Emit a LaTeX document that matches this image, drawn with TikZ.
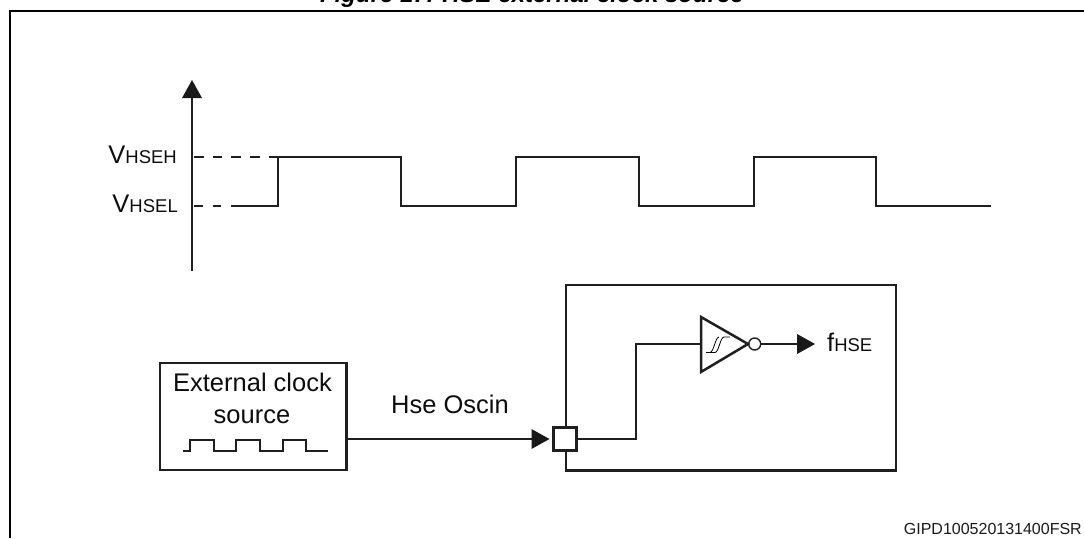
\documentclass[tikz,border=0pt]{standalone}
\usepackage{fontspec}
\setmainfont{Liberation Sans}
\usetikzlibrary{arrows.meta}
\newcommand{\subtxt}[1]{{\fontsize{18.5}{20}\selectfont #1}}
\tikzset{
  x=1pt,y=-1pt,
  wire/.style={line width=2.5pt,draw=black!88,line join=miter},
  thinwire/.style={line width=2pt,draw=black!88},
  boxed/.style={draw=black!88,line width=2.5pt,outer sep=0pt,inner sep=0pt},
  arr/.style={wire,-{Triangle[length=18pt,width=20pt,line width=0pt,fill=black!90]}},
  txt/.style={inner sep=0pt,text=black!95,font=\fontsize{25.5}{28}\selectfont},
}
\begin{document}
\begin{tikzpicture}
\useasboundingbox (0,0) rectangle (1084,538);
\clip (0,0) rectangle (1084,538);
\node[anchor=base,inner sep=0pt,font=\fontsize{24}{26}\selectfont\bfseries\itshape] (title) at (532,2) {Figure 17. HSE external clock source};
\draw[line width=2.6pt] (10,538) -- (10,11) -- (1084,11);
% axis
\coordinate (axb) at (192,270.5);
\coordinate (axt) at (192,80);
\draw[arr] (axb) -- (axt);
\node[txt,anchor=base east] (vh) at (177,163) {V\subtxt{HSEH}};
\node[txt,anchor=base east] (vl) at (178,212) {V\subtxt{HSEL}};
\coordinate (h0) at (194,157);
\coordinate (l0) at (194,206);
\draw[wire,dash pattern=on 9.5pt off 9.2pt] (h0) -- (278,157);
\draw[wire,dash pattern=on 8.5pt off 10pt] (l0) -- (239,206);
\draw[wire] (239,206) -| (278,157) -| (401,206) -| (516,157) -| (639,206) -| (754,157) -| (876,206) -- (991,206);
% lower box
\node[boxed,minimum width=186.5pt,minimum height=107pt,anchor=north west] (src) at (160,363) {};
\node[txt,anchor=base] (l1) at (252.5,391) {External clock};
\node[txt,anchor=base] (l2) at (252,423) {source};
\draw[thinwire] (183,450.5) -- (190,450.5) |- (214,440) |- (236,450.5) |- (260,440) |- (283,450.5) |- (306,440) |- (328,450.5);
\node[boxed,minimum width=330pt,minimum height=185.5pt,anchor=north west] (chip) at (566,285) {};
\node[boxed,fill=white,minimum size=23pt] (pad) at (565,439) {};
\draw[arr,shorten >=4pt] (src.east |- pad) -- (pad.west);
\node[txt,anchor=base] (hse) at (450,413) {Hse Oscin};
% inverter
\coordinate (tl) at (701,317);
\coordinate (bl) at (701,372);
\coordinate (tip) at (748,344);
\draw[wire] (tl) -- (tip) -- (bl) -- cycle;
\node[draw=black!88,line width=1.4pt,circle,minimum size=12pt,inner sep=0pt,anchor=west] (bub) at (748,344) {};
\draw[wire] (pad.east) -| (636,344) -- (701,344);
\draw[arr] (bub.east) -- (815,344);
\node[txt,anchor=base west] (f) at (827,351) {f\subtxt{HSE}};
\draw[line width=0.8pt] (706,352.5) -- (715,352.5) .. controls (719,352) and (720,337.5) .. (724,337) -- (730,337);
\draw[line width=0.8pt] (710,352.5) .. controls (714,352) and (715,337.5) .. (719,337);
\node[anchor=base east,inner sep=0pt,text=black!90,font=\fontsize{16}{18}\selectfont] (code) at (1082,534) {GIPD100520131400FSR};
\end{tikzpicture}
\end{document}
